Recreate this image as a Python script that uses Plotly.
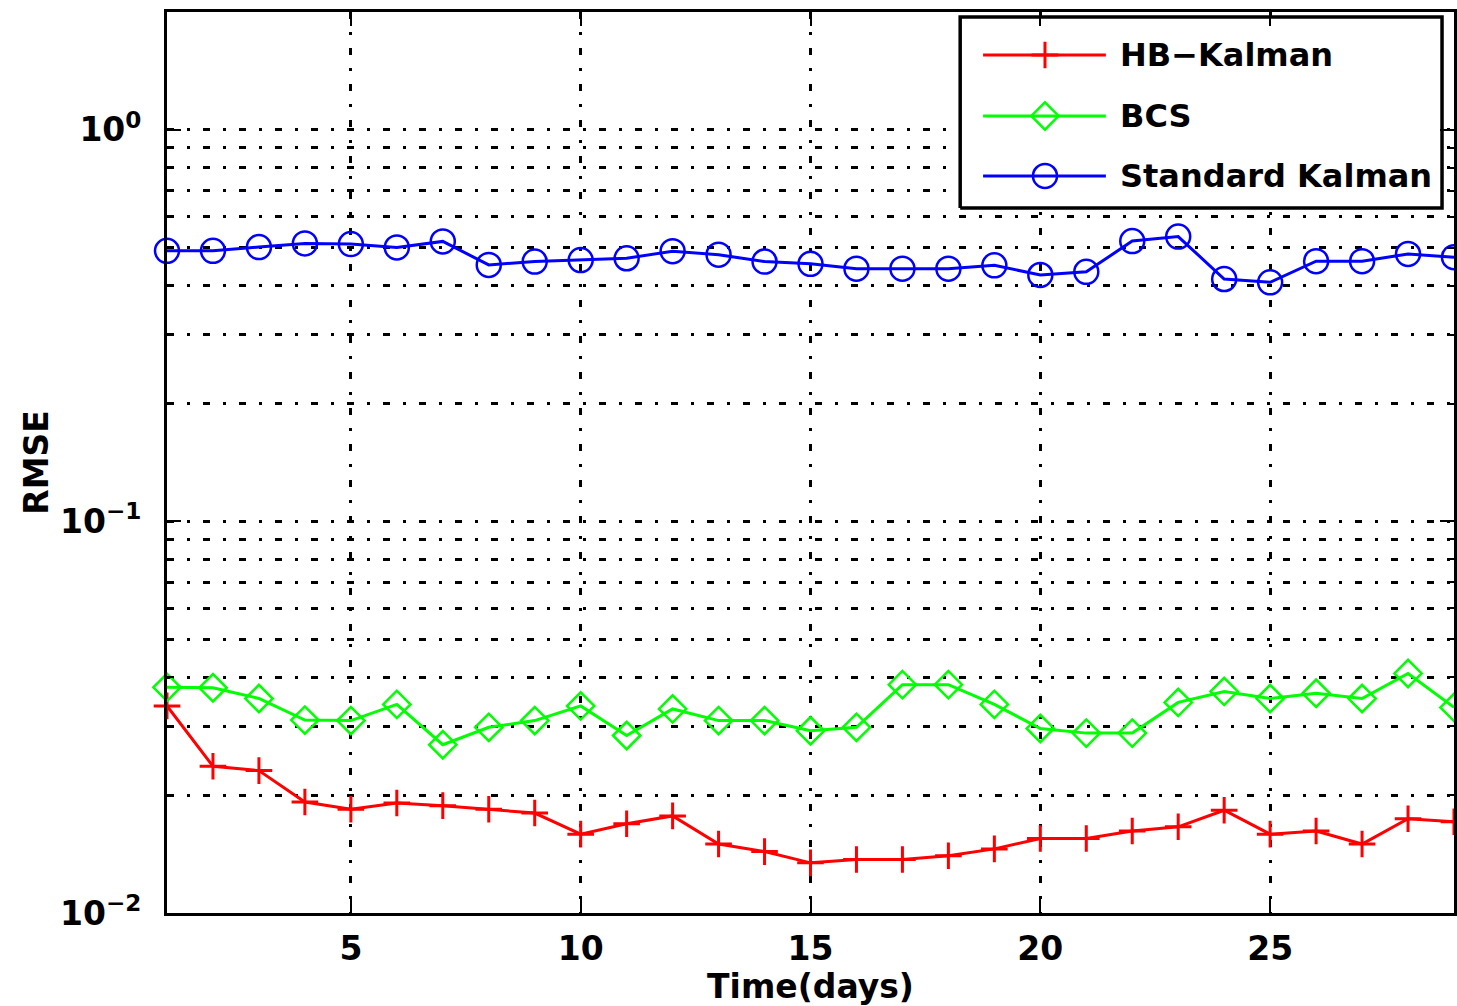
import math
import plotly.graph_objects as go

# ---------------- data ----------------
days = list(range(1, 30))
hb_kalman = [0.0338, 0.0237, 0.0231, 0.0192, 0.0184, 0.0191, 0.0188, 0.0184, 0.0180, 0.0159,
             0.0169, 0.0177, 0.0150, 0.01435, 0.01343, 0.0137, 0.0137, 0.0140, 0.01458, 0.0155,
             0.0155, 0.0162, 0.0166, 0.0183, 0.0159, 0.0162, 0.0150, 0.0174, 0.0171]
bcs = [0.0377, 0.0376, 0.0353, 0.0311, 0.0310, 0.0341, 0.0269, 0.0298, 0.0310, 0.0338,
       0.0284, 0.0332, 0.0310, 0.0310, 0.0292, 0.0298, 0.0383, 0.0383, 0.0341, 0.0296,
       0.0288, 0.0288, 0.0345, 0.0368, 0.0353, 0.0364, 0.0353, 0.0409, 0.0335]
std_kalman = [0.491, 0.491, 0.502, 0.513, 0.511, 0.501, 0.519, 0.452, 0.461, 0.465,
              0.470, 0.490, 0.480, 0.461, 0.455, 0.442, 0.442, 0.442, 0.451, 0.426,
              0.434, 0.520, 0.534, 0.416, 0.408, 0.462, 0.462, 0.482, 0.473]

series_names = ["HB\u2212Kalman", "BCS", "Standard Kalman"]
series_colors = ["#ff0000", "#00ff00", "#0000ff"]
series_symbols = ["cross-thin-open", "diamond-open", "circle-open"]
series_sizes = [19, 21, 24]
series_data = [hb_kalman, bcs, std_kalman]

x_tickvals = [5, 10, 15, 20, 25]
y_major = [0.01, 0.1, 1]
y_major_text = ["10<sup>\u22122</sup>", "10<sup>\u22121</sup>", "10<sup>0</sup>"]
y_minor = [m * d for d in (0.01, 0.1) for m in range(2, 10)] + [2]

FONT = dict(family="DejaVu Sans", size=33, color="black", weight="bold")
GRID_DASH = "7px,13px,3px,13px"

fig = go.Figure()

for name, col, sym, sz, vals in zip(series_names, series_colors, series_symbols,
                                    series_sizes, series_data):
    fig.add_trace(go.Scatter(
        x=days, y=vals, name=name, mode="lines+markers",
        line=dict(color=col, width=3),
        marker=dict(symbol=sym, size=sz, color=col,
                    line=dict(color=col, width=3 if sym.startswith("cross") else 2.5)),
        cliponaxis=False, showlegend=False,
    ))

# ---------------- custom legend (on overlay axes in [0,1]) ----------------
box_x0, box_x1, box_y0, box_y1 = 0.6163, 0.9907, 0.7825, 0.9945
row_y = [0.9523, 0.8846, 0.8180]
line_x0, line_x1, mark_x, text_x = 0.6341, 0.7295, 0.6822, 0.7388

fig.add_trace(go.Scatter(
    x=[box_x0, box_x1, box_x1, box_x0, box_x0],
    y=[box_y0, box_y0, box_y1, box_y1, box_y0],
    xaxis="x2", yaxis="y2", mode="lines", fill="toself", fillcolor="white",
    line=dict(color="black", width=3.5), showlegend=False, hoverinfo="skip",
))
for name, col, sym, sz, ry in zip(series_names, series_colors, series_symbols, series_sizes, row_y):
    fig.add_trace(go.Scatter(
        x=[line_x0, line_x1], y=[ry, ry], xaxis="x2", yaxis="y2", mode="lines",
        line=dict(color=col, width=3), showlegend=False, hoverinfo="skip",
    ))
    fig.add_trace(go.Scatter(
        x=[mark_x], y=[ry], xaxis="x2", yaxis="y2", mode="markers",
        marker=dict(symbol=sym, size=sz, color=col,
                    line=dict(color=col, width=3 if sym.startswith("cross") else 2.5)),
        showlegend=False, hoverinfo="skip",
    ))
    fig.add_annotation(x=text_x, y=ry, xref="paper", yref="paper", text=name,
                       showarrow=False, xanchor="left", yanchor="middle",
                       font=dict(family="DejaVu Sans", size=32, color="black", weight="bold"))

axis_common = dict(
    showline=True, linewidth=3, linecolor="black", mirror="allticks",
    ticks="inside", tickwidth=2, tickcolor="black", ticklen=14,
    showgrid=True, gridcolor="black", gridwidth=2.5, griddash=GRID_DASH,
    zeroline=False, tickfont=FONT,
)

fig.update_layout(
    width=1457, height=1006,
    margin=dict(l=167, r=0, t=12, b=93),
    paper_bgcolor="white", plot_bgcolor="white",
    showlegend=False,
    xaxis=dict(
        range=[1, 29], tickmode="array", tickvals=x_tickvals,
        ticklabelstandoff=4,
        title=dict(text="Time(days)", font=FONT, standoff=4),
        **axis_common,
    ),
    yaxis=dict(
        type="log", range=[-2, math.log10(2)],
        tickmode="array", tickvals=y_major, ticktext=y_major_text,
        ticklabelstandoff=16,
        title=dict(text="RMSE", font=FONT, standoff=2),
        minor=dict(tickmode="array", tickvals=y_minor, ticks="inside", ticklen=7,
                   tickwidth=2, tickcolor="black", showgrid=True, gridcolor="black",
                   gridwidth=2.5, griddash=GRID_DASH),
        **axis_common,
    ),
    xaxis2=dict(overlaying="x", range=[0, 1], visible=False, fixedrange=True),
    yaxis2=dict(overlaying="y", range=[0, 1], visible=False, fixedrange=True),
)

fig.write_html("out.html")
